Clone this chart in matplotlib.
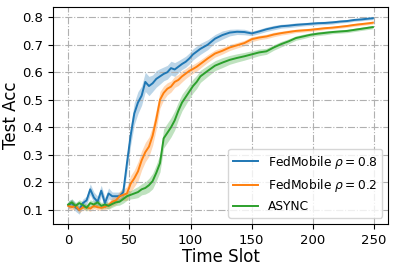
import matplotlib
matplotlib.use("Agg")
import matplotlib.pyplot as plt
import numpy as np

time_slot = [0, 3, 6, 9, 12, 15, 18, 21, 24, 27, 30, 33, 36, 39, 42, 45, 48, 51, 54, 57,
             60, 63, 66, 69, 72, 75, 78, 81, 84, 87, 90, 93, 96, 99, 102, 105, 108,
             114, 120, 126, 132, 138, 144, 150, 156, 162, 168, 174, 180, 186, 192, 198,
             204, 210, 216, 222, 228, 234, 240, 246, 249]

fed08_mean = [0.118, 0.125, 0.11, 0.10, 0.125, 0.135, 0.175, 0.145, 0.13, 0.17, 0.125, 0.16,
              0.15, 0.15, 0.15, 0.165, 0.27, 0.37, 0.45, 0.49, 0.515, 0.565, 0.55, 0.56,
              0.576, 0.585, 0.594, 0.60, 0.615, 0.61, 0.62, 0.63, 0.638, 0.65, 0.665, 0.675,
              0.685, 0.70, 0.722, 0.735, 0.744, 0.747, 0.746, 0.741, 0.748, 0.756, 0.762,
              0.767, 0.769, 0.772, 0.774, 0.776, 0.778, 0.779, 0.781, 0.784, 0.786, 0.79,
              0.792, 0.795, 0.796]
fed08_std = [0.015, 0.015, 0.015, 0.015, 0.015, 0.015, 0.02, 0.02, 0.02, 0.02, 0.02, 0.02,
             0.015, 0.015, 0.015, 0.02, 0.03, 0.035, 0.04, 0.04, 0.035, 0.035, 0.035, 0.03,
             0.03, 0.028, 0.025, 0.025, 0.025, 0.025, 0.022, 0.02, 0.02, 0.02, 0.02, 0.02,
             0.02, 0.018, 0.015, 0.015, 0.012, 0.01, 0.01, 0.008, 0.008, 0.008, 0.008,
             0.007, 0.007, 0.007, 0.006, 0.006, 0.006, 0.006, 0.006, 0.005, 0.005, 0.005,
             0.005, 0.005, 0.005]

fed02_mean = [0.115, 0.11, 0.115, 0.10, 0.11, 0.11, 0.105, 0.115, 0.11, 0.108, 0.112, 0.118,
              0.13, 0.135, 0.15, 0.155, 0.16, 0.195, 0.215, 0.24, 0.28, 0.31, 0.33, 0.37,
              0.43, 0.50, 0.525, 0.54, 0.548, 0.565, 0.572, 0.585, 0.595, 0.605, 0.612, 0.62,
              0.63, 0.65, 0.668, 0.678, 0.69, 0.698, 0.706, 0.72, 0.726, 0.73, 0.737, 0.742,
              0.746, 0.75, 0.752, 0.754, 0.757, 0.76, 0.762, 0.765, 0.768, 0.772, 0.775,
              0.778, 0.78]
fed02_std = [0.01, 0.01, 0.01, 0.01, 0.01, 0.01, 0.01, 0.01, 0.01, 0.01, 0.01, 0.012,
             0.015, 0.015, 0.018, 0.02, 0.025, 0.03, 0.03, 0.035, 0.035, 0.035, 0.035, 0.035,
             0.035, 0.03, 0.025, 0.022, 0.02, 0.02, 0.02, 0.02, 0.018, 0.018, 0.016, 0.016,
             0.015, 0.014, 0.013, 0.012, 0.011, 0.01, 0.01, 0.009, 0.008, 0.008, 0.008, 0.007,
             0.007, 0.006, 0.006, 0.006, 0.006, 0.005, 0.005, 0.005, 0.005, 0.005, 0.005,
             0.005, 0.005]

async_mean = [0.12, 0.128, 0.115, 0.125, 0.118, 0.108, 0.125, 0.12, 0.128, 0.115, 0.12, 0.115,
              0.122, 0.128, 0.13, 0.14, 0.15, 0.155, 0.16, 0.165, 0.175, 0.18, 0.19, 0.205,
              0.235, 0.27, 0.36, 0.38, 0.40, 0.425, 0.46, 0.49, 0.51, 0.53, 0.55, 0.565,
              0.585, 0.605, 0.624, 0.635, 0.645, 0.652, 0.658, 0.665, 0.672, 0.676, 0.69,
              0.702, 0.712, 0.724, 0.73, 0.736, 0.74, 0.743, 0.746, 0.748, 0.75, 0.754,
              0.758, 0.762, 0.764]
async_std = [0.012, 0.012, 0.012, 0.012, 0.012, 0.012, 0.012, 0.012, 0.012, 0.012, 0.012, 0.012,
             0.012, 0.012, 0.012, 0.015, 0.015, 0.015, 0.018, 0.02, 0.02, 0.022, 0.025, 0.028,
             0.03, 0.032, 0.035, 0.035, 0.035, 0.035, 0.032, 0.03, 0.028, 0.026, 0.025, 0.024,
             0.022, 0.02, 0.018, 0.018, 0.016, 0.015, 0.014, 0.013, 0.012, 0.011, 0.01,
             0.01, 0.009, 0.008, 0.008, 0.007, 0.007, 0.007, 0.006, 0.006, 0.006, 0.006,
             0.006, 0.006, 0.006]

series = [
    ("FedMobile $\\rho=0.8$", fed08_mean, fed08_std, "tab:blue"),
    ("FedMobile $\\rho=0.2$", fed02_mean, fed02_std, "tab:orange"),
    ("ASYNC", async_mean, async_std, "tab:green"),
]

fig = plt.figure(figsize=(3.94, 2.70), dpi=100)
ax = fig.add_axes([0.1345, 0.1704, 0.8505, 0.8036])

x = np.array(time_slot)
for label, m, s, c in series:
    m = np.array(m)
    s = np.array(s)
    ax.plot(x, m, color=c, lw=1.4, label=label)
    ax.fill_between(x, m - s, m + s, color=c, alpha=0.3, lw=0)

ax.set_xticks([0, 50, 100, 150, 200, 250])
ax.set_yticks([0.1, 0.2, 0.3, 0.4, 0.5, 0.6, 0.7, 0.8])
ax.tick_params(labelsize=9.5)
ax.grid(True, linestyle='-.', color='#b0b0b0', lw=0.8)
ax.set_xlabel("Time Slot", fontsize=12, labelpad=1)
ax.set_ylabel("Test Acc", fontsize=12)
ax.yaxis.set_label_coords(-0.097, 0.5)
ax.legend(loc='lower right', fontsize=8.8)

fig.savefig("out.png", dpi=100)
